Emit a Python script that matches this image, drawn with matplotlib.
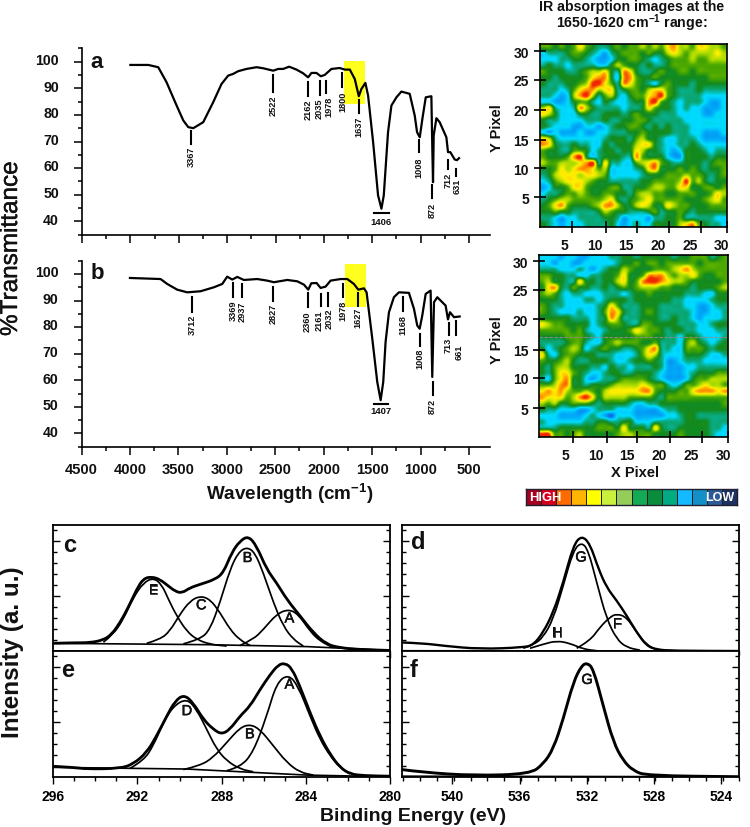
import numpy as np
import matplotlib
matplotlib.use('Agg')
import matplotlib.pyplot as plt
import matplotlib.patheffects as pe
from matplotlib.colors import LinearSegmentedColormap, ListedColormap
from matplotlib.patches import PathPatch
from matplotlib.path import Path
from matplotlib.transforms import ScaledTranslation

plt.rcParams['font.family'] = ['Liberation Sans', 'DejaVu Sans']
plt.rcParams['mathtext.default'] = 'bf'
plt.rcParams['mathtext.fontset'] = 'custom'
plt.rcParams['mathtext.bf'] = 'Liberation Sans:bold'

# FT-IR spectra
a_wn = [4000,3815,3712,3626,3522,3453,3402,3350,3247,3144,3058,2989,2937,2886,2800,2696,2627,2524,2472,2421,
        2359,2283,2214,2163,2128,2077,2032,1991,1922,1836,1784,1732,1681,1639,1612,1571,1543,1491,1440,1405,
        1381,1337,1302,1250,1199,1113,1061,1037,1009,982,947,889,879,872,865,837,803,734,717,693,648,624,603]
a_t = [98.75,98.75,97.9,92.25,83.5,77.9,75.4,75,77.25,84.75,91.6,94.75,95.4,96.4,97.25,97.9,97.5,96.6,97.25,97.25,
       98.1,97,95.6,94.1,95.75,95.75,94.5,95,97.25,97.6,97,97,93.5,87,89.75,92,87.25,69.75,49.75,44.75,
       49.75,73.5,83.5,86.6,88.75,87.9,79.75,73.5,71.6,78.5,86.6,87,67,54.75,72.25,78.75,77.25,71.6,66,66,63.25,63,63.75]
b_wn = [4000,3684,3615,3512,3409,3271,3133,3047,2996,2944,2892,2824,2686,2583,2514,2376,2273,2204,2159,2128,
        2073,2032,1980,1929,1825,1756,1688,1643,1584,1557,1498,1447,1412,1385,1361,1326,1275,1223,1120,1068,
        1034,1009,982,947,896,879,861,827,741,717,696,655,596]
b_t = [98.5,98.1,96.25,94.1,93.1,93.5,95,96.25,99,97.9,98.9,97.75,98.1,97.5,96.9,97.75,97.25,96,94.1,96.5,
       96.6,94.75,95.25,97.5,98.1,98.1,96.25,94.1,94.6,93.1,75.6,59.4,52.5,59.4,74.4,85.6,91.25,93.1,92.9,86.9,
       80.6,79.4,84.4,92.5,93.75,61.25,89.4,91.25,88.1,82.9,85.6,83.75,84]

# peak labels: text, tick x, tick top, tick bottom, text x, text centre
a_peak_text = ['3367','2522','2162','2035','1978','1800','1637','1008','872','712','631']
a_peak_x = [3371,2528,2163,2035,1977,1808,1639,1016,879,717,631]
a_peak_top = [74,95,92.25,92.9,92.9,95.6,85.4,70.4,53.5,62.9,59.75]
a_peak_bot = [69.1,88.5,87,87.6,88.25,90.4,80.75,66,48.75,59.5,57]
a_peak_tx = [3371,2528,2163,2050,1950,1808,1639,1016,879,717,620]
a_peak_mid = [64.75,83.75,82.25,82.6,83.25,85.1,76,60.4,44.5,55.9,53.5]
b_peak_text = ['3712','3369','2937','2827','2360','2161','2032','1978','1627','1168','1008','872','713','661']
b_peak_x = [3361,2934,2841,2524,2166,2032,1960,1798,1643,1178,1009,875,710,631]
b_peak_top = [91.25,96.5,96.25,95,92.9,92.5,92.9,96.25,92.9,91.25,77.5,59.4,81.6,82.25]
b_peak_bot = [85.6,91.5,91.25,90,87.5,87.9,88.1,91.25,88.1,86.25,72.9,54.4,77.1,77.1]
b_peak_tx = [3361,2934,2841,2524,2166,2045,1945,1798,1643,1178,1009,875,712,600]
b_peak_mid = [81.1,86.5,86,85.25,82.5,82.9,83.5,86.5,84,81,68.4,50.5,73.4,70.9]

# IR absorption maps, one digit per pixel, top row is y=30
map_a = """
55454 57543 34545 56565 78665 77665
23334 55432 13455 54544 67656 66676
22233 44321 12445 54323 45556 55666
34332 33332 24654 43433 45555 55555
54443 34566 74387 43345 44554 55555
44344 44578 84288 54454 44444 44555
43334 45699 75387 54324 54443 44444
33323 57886 77345 54677 54333 43333
33212 68963 56324 55789 54333 32222
22112 45532 43223 44895 43233 32112
67322 38643 33323 34754 43232 21112
76422 24433 44434 54443 33222 21122
43322 22333 43344 55433 33322 22222
43222 11221 23445 54343 43332 22222
21211 12112 23334 45444 43332 21112
76322 22222 34443 56443 22333 21111
87433 43322 43444 67743 22334 32222
54433 55423 44344 76443 21244 43233
54445 89423 44433 85444 21144 44344
65566 67893 73322 56785 43344 43455
44576 78875 62222 34784 44545 43445
34677 76776 52222 23444 55565 54345
23567 77654 43333 34455 55695 64344
12445 77544 45533 44566 55774 45545
23345 56544 55443 56655 44555 44576
34566 55555 67434 56755 55544 45675
45785 44456 88644 67644 76554 44555
44544 33334 65443 33453 44543 44444
33212 23333 44312 22133 44533 33322
43212 22333 34212 32244 44678 54332
"""
map_b = """
22212 21122 23344 34444 43445 55345
22122 11222 22344 54554 55555 45555
33322 23212 34465 44455 56786 55555
55443 32233 44574 45888 65667 54455
56443 37443 44674 58998 76654 44445
47843 54433 43454 56665 54443 44456
56532 33222 33323 44544 44433 32244
44432 22332 34443 44444 43322 22344
54332 22223 47533 34443 33322 11233
54322 23223 58743 34543 33332 11223
44444 33323 48633 34443 34332 12223
76554 44423 45543 35544 44333 22344
55555 45322 34445 76554 34433 22233
44445 55432 44444 55544 33244 32223
33334 55322 45655 54453 33256 43234
42345 65234 54433 45783 32255 54344
73245 54443 33222 35763 22244 43223
54456 43344 43223 44543 11233 32222
43566 44433 24332 33343 11122 33333
43577 54322 34433 44432 11123 44455
32578 44212 33455 55432 11124 55666
55688 44344 45666 67655 32355 67665
78786 55654 67777 78854 44557 88878
87775 68974 66665 55543 55555 55555
65644 55543 44443 22334 44444 44445
43322 21123 33222 11112 33444 44444
22211 11232 10222 11111 22344 33333
32222 22334 43344 22233 33344 44333
33344 44445 55474 44374 33444 44332
99554 56444 44566 55544 44544 44322
"""
map_colors = ['#1068e8', '#00aaf8', '#00dcff', '#0aa878', '#128a1e', '#4aa800', '#aedc00', '#fff000', '#ff9c00', '#f02800']
bar_colors = ['#a50021', '#d40020', '#ff6a00', '#ffb400', '#ffff00', '#c8f03c', '#96cd5a',
              '#14aa55', '#0a8c3c', '#00aa82', '#14b9ff', '#1490c8', '#2d5a96', '#1e3264']

# XPS C1s, upper panel
c_be = [296,295.05,294.26,293.62,293.23,292.83,292.44,292.04,291.72,291.33,290.93,290.53,290.22,289.9,289.5,289.03,
        288.32,287.92,287.52,287.13,286.73,286.34,285.86,285.39,284.91,284.28,283.64,283.01,282.38,281.58,280]
c_i = [.14,.15,.15,.2,.3,.515,.79,1.12,1.315,1.35,1.3,1.18,1.09,1.05,1.15,1.21,
       1.3,1.42,1.79,2,2.09,1.91,1.485,1.24,.94,.64,.33,.12,.06,.03,.01]
c_e_be = [293.62,293.15,292.67,292.2,291.72,291.25,290.85,290.53,290.14,289.66,289.19,288.55,287.76]
c_e_i = [.16,.3,.58,.97,1.24,1.33,1.21,.94,.64,.36,.21,.12,.09]
c_c_be = [291.56,290.93,290.46,289.98,289.5,289.03,288.55,288.08,287.6,287.13,286.65]
c_c_i = [.14,.21,.36,.67,.91,1,.94,.7,.39,.2,.1]
c_b_be = [289.82,289.03,288.55,288.08,287.6,287.21,286.81,286.42,286.02,285.54,285.07,284.59,284.12]
c_b_i = [.13,.21,.39,.88,1.485,1.79,1.89,1.79,1.42,.88,.45,.21,.09]
c_a_be = [287.13,286.5,286.02,285.39,284.83,284.36,283.8,283.33,282.69]
c_a_i = [.1,.21,.39,.67,.76,.67,.36,.18,.06]
c_base_be = [296,288.71,283.96,280]
c_base_i = [.14,.115,.08,.01]

# XPS C1s, lower panel
e_be = [296,295.05,294.42,292.83,292.2,291.56,291.09,290.61,290.22,289.79,289.35,288.87,288.4,288,287.6,287.13,
        286.65,286.18,285.7,285.31,284.99,284.67,284.28,283.8,283.33,282.85,282.38,281.9,281.27,280]
e_i = [.2,.18,.15,.16,.24,.45,.75,1.11,1.38,1.5,1.35,1.05,.87,.78,.87,1.11,
       1.29,1.59,1.86,2.04,2.07,1.98,1.65,1.17,.75,.42,.18,.06,.03,.02]
e_d_be = [292.36,291.72,291.25,290.77,290.3,289.66,289.19,288.71,288.24,287.76,287.13,286.5]
e_d_i = [.16,.3,.57,.99,1.29,1.43,1.23,.87,.51,.3,.15,.1]
e_b_be = [289.82,289.03,288.4,287.76,287.13,286.65,286.18,285.54,284.91,284.28,283.64]
e_b_i = [.14,.21,.36,.63,.9,.96,.87,.57,.27,.09,.04]
e_a_be = [287.76,287.13,286.5,285.86,285.39,284.83,284.36,283.8,283.33,282.85,282.38,281.9]
e_a_i = [.12,.18,.45,1.11,1.71,1.87,1.65,1.11,.69,.39,.18,.06]
e_base_be = [296,289.66,283.96,280]
e_base_i = [.18,.15,.04,.01]

# XPS O1s
d_be = [543,541.73,540.54,538.36,535.78,535.18,534.59,533.99,533.4,532.8,532.31,531.81,531.31,530.82,530.22,529.63,
        529.03,528.44,527.84,526.85,522.92]
d_i = [.16,.145,.1,.04,.07,.115,.345,.71,1.25,1.92,2.1,1.95,1.5,1.16,.92,.65,.345,.1,.03,.01,.005]
d_g_be = [535.78,535.18,534.59,533.99,533.4,532.8,532.31,531.91,531.41,530.82,530.22,529.63,528.83]
d_g_i = [.055,.115,.255,.59,1.19,1.83,1.98,1.83,1.25,.59,.22,.07,.02]
d_h_be = [535.38,534.59,533.79,533,532.21,531.41]
d_h_i = [.055,.13,.19,.145,.04,.01]
d_f_be = [532.6,531.81,531.21,530.62,530.22,529.63,529.03,528.44,527.84]
d_f_i = [.055,.19,.44,.62,.68,.62,.345,.115,.03]
f_be = [543,541.73,538.75,535.38,534.59,533.99,533.4,532.8,532.31,531.97,531.61,531.02,530.42,529.83,529.23,528.44,522.92]
f_i = [.14,.09,.03,.06,.24,.515,1.06,1.73,2.03,2.08,1.97,1.3,.64,.3,.12,.03,.01]

DARK = '#111111'


def add_ax(l, t, r, b):
    return fig.add_axes([l / 750, 1 - b / 828, (r - l) / 750, (b - t) / 828])


def draw_ir(ax, wn, t, texts, xs, tops, bots, txs, mids):
    ax.plot(wn, t, color='black', lw=1.6, solid_joinstyle='round', zorder=3)
    for s, x, y1, y2, tx, ym in zip(texts, xs, tops, bots, txs, mids):
        ax.plot([x, x], [y1, y2], color='black', lw=1.5, zorder=3)
        ax.text(tx, ym, s, rotation=90, ha='center', va='center', fontsize=6.6, fontweight='bold', color=DARK)
    ax.set_xlim(4500, 283)
    ax.set_ylim(35, 105)
    ax.set_xticks(np.arange(500, 4501, 500))
    ax.set_xticks(np.arange(750, 4500, 500), minor=True)
    ax.set_yticks(np.arange(40, 101, 10))
    ax.set_yticks(np.arange(35, 105.1, 5), minor=True)
    ax.spines['top'].set_visible(False)
    ax.spines['right'].set_visible(False)
    for s in ['left', 'bottom']:
        ax.spines[s].set_linewidth(1.2)
    ax.tick_params(axis='x', which='major', length=6, width=1.1, labelsize=10.6, pad=5)
    ax.tick_params(axis='y', which='major', length=6, width=1.1, labelsize=10.2, pad=10.5)
    ax.tick_params(which='minor', length=3.2, width=1.1)
    for lab in ax.get_xticklabels():
        lab.set_fontweight('bold')
        lab.set_color(DARK)
    for lab in ax.get_yticklabels():
        lab.set_fontweight('bold')
        lab.set_color(DARK)
        lab.set_transform(lab.get_transform() + ScaledTranslation(0, 3.2 / 100, fig.dpi_scale_trans))
    ax.patch.set_alpha(0)


def draw_map(ax, rows, xt, xl, yt):
    grid = np.array([[int(c) for c in r.replace(' ', '')] for r in rows.strip().split('\n')])
    ax.imshow(grid, cmap=map_cmap, vmin=0, vmax=9, extent=(0, 30, 0, 30), origin='upper',
              interpolation='catrom', aspect='auto')
    ax.set_xlim(0, 30)
    ax.set_ylim(0, 30)
    ax.set_xticks(xt, [''] * 6)
    ax.set_xticks(xl, ['5', '10', '15', '20', '25', '30'], minor=True)
    ax.set_yticks(yt, ['5', '10', '15', '20', '25', '30'])
    ax.tick_params(which='major', direction='inout', length=8, width=1.2, labelsize=10)
    ax.tick_params(axis='y', pad=4)
    ax.tick_params(axis='x', which='minor', length=0, labelsize=10, pad=8)
    for lab in ax.get_xticklabels(minor=True) + ax.get_yticklabels():
        lab.set_fontweight('bold')
        lab.set_color(DARK)
    for s in ax.spines.values():
        s.set_linewidth(1.2)


def smooth(ax, x, y, lw, zorder=3):
    # quadratic bezier through the read points, the source curves have no corners
    pts = list(zip(x, y))
    verts = [pts[0]]
    codes = [Path.MOVETO]
    for i in range(1, len(pts) - 1):
        mid = ((pts[i][0] + pts[i + 1][0]) / 2, (pts[i][1] + pts[i + 1][1]) / 2)
        verts += [pts[i], mid]
        codes += [Path.CURVE3, Path.CURVE3]
    verts.append(pts[-1])
    codes.append(Path.LINETO)
    ax.add_patch(PathPatch(Path(verts, codes), fill=False, edgecolor='black', lw=lw, zorder=zorder))


def draw_xps(ax, xlim, major, lines, base, labels):
    for x, y in lines:
        smooth(ax, x, y, 1.25)
    ax.plot(base[0], base[1], color='black', lw=1.2, zorder=2)
    for s, x, y in labels:
        ax.text(x, y, s, ha='center', va='center', fontsize=10.5, color=DARK, zorder=4,
                path_effects=[pe.withStroke(linewidth=0.4, foreground=DARK)])
    ax.set_xlim(*xlim)
    ax.set_ylim(0, 2.29)
    ax.set_xticks(major)
    ax.set_xticks(np.arange(xlim[1], xlim[0] + .01, 1), minor=True)
    ax.set_yticks([1, 2], [])
    ax.set_yticks(np.arange(.2, 2.25, .2), minor=True)
    ax.tick_params(axis='y', which='major', direction='in', left=True, right=True, length=5, width=1)
    ax.tick_params(axis='y', which='minor', direction='in', left=True, right=True, length=3, width=1)
    ax.tick_params(axis='x', which='major', direction='out', length=5, width=1, labelsize=10, pad=3.5)
    ax.tick_params(axis='x', which='minor', direction='out', length=3, width=1)
    for lab in ax.get_xticklabels():
        lab.set_fontweight('bold')
    for s in ax.spines.values():
        s.set_linewidth(1.3)


map_cmap = LinearSegmentedColormap.from_list('ir', map_colors)
fig = plt.figure(figsize=(7.5, 8.28), dpi=100)

ax_a = add_ax(82, 49.3, 490, 235.7)
ax_a.axvspan(1794, 1571, ymin=(84.1 - 35) / 70, ymax=(100.1 - 35) / 70, color='#ffff1e', lw=0, zorder=1)
draw_ir(ax_a, a_wn, a_t, a_peak_text, a_peak_x, a_peak_top, a_peak_bot, a_peak_tx, a_peak_mid)
ax_a.plot([1485, 1330], [43.25, 43.25], color='black', lw=1.5)
ax_a.text(1405, 40.1, '1406', ha='center', va='center', fontsize=6.8, fontweight='bold', color=DARK)
ax_a.text(4345, 100.2, 'a', ha='center', va='center', fontsize=16, fontweight='bold', color=DARK)
ax_a.tick_params(axis='x', labelbottom=False)

ax_b = add_ax(81.5, 261.7, 490, 447.7)
ax_b.axvspan(1784, 1560, ymin=(87.75 - 35) / 70, ymax=(103.75 - 35) / 70, color='#ffff1e', lw=0, zorder=1)
draw_ir(ax_b, b_wn, b_t, b_peak_text, b_peak_x, b_peak_top, b_peak_bot, b_peak_tx, b_peak_mid)
ax_b.plot([1481, 1337], [51.1, 51.1], color='black', lw=1.5)
ax_b.text(1412, 48.6, '1407', ha='center', va='center', fontsize=6.8, fontweight='bold', color=DARK)
ax_b.text(4335, 100.5, 'b', ha='center', va='center', fontsize=16, fontweight='bold', color=DARK)

fig.text(11 / 750, 1 - 250 / 828, '%Transmittance', rotation=90, ha='center', va='center', fontsize=17.5, color=DARK,
         path_effects=[pe.withStroke(linewidth=0.3, foreground=DARK)])
fig.text(290 / 750, 1 - 494 / 828, 'Wavelength (cm$^{-1}$)', ha='center', va='center', fontsize=13.6,
         fontweight='bold', color=DARK)

# maps
ax_m1 = add_ax(540, 45, 726.7, 227.7)
draw_map(ax_m1, map_a, [5.2, 10.55, 15.6, 20.7, 25.9, 30], [3.86, 8.84, 13.8, 19, 24.2, 29.2],
         [4.8, 9.6, 14.3, 19.2, 24.1, 28.8])
ax_m2 = add_ax(539.3, 256, 728, 438.3)
draw_map(ax_m2, map_b, [5.4, 10.7, 15.6, 20.7, 25.9, 30], [4.1, 9, 14, 19, 24.1, 29.2],
         [4.8, 9.8, 14.4, 19.4, 24.3, 29])
ax_m2.axhline(16.45, color='#8a8a8a', lw=0.8, ls=(0, (3, 1.5)))
fig.text(497 / 750, 1 - 128 / 828, 'Y Pixel', rotation=90, ha='center', va='center', fontsize=10.5,
         fontweight='bold', color=DARK)
fig.text(497 / 750, 1 - 340 / 828, 'Y Pixel', rotation=90, ha='center', va='center', fontsize=10.5,
         fontweight='bold', color=DARK)
fig.text(635 / 750, 1 - 473 / 828, 'X Pixel', ha='center', va='center', fontsize=10.5, fontweight='bold', color=DARK)
fig.text(632 / 750, 1 - 6.5 / 828, 'IR absorption images at the', ha='center', va='center', fontsize=10.2,
         fontweight='bold', color=DARK)
fig.text(632 / 750, 1 - 23 / 828, '1650-1620 cm$^{-1}$ range:', ha='center', va='center', fontsize=10.2,
         fontweight='bold', color=DARK)

# HIGH - LOW scale
ax_bar = add_ax(525.7, 490, 737.3, 505.7)
ax_bar.pcolormesh(np.arange(len(bar_colors))[None, :], cmap=ListedColormap(bar_colors), edgecolors='#202020', linewidth=0.6)
ax_bar.set_xticks([])
ax_bar.set_yticks([])
for s in ax_bar.spines.values():
    s.set_color('#202030')
    s.set_linewidth(1)
ax_bar.text(1.28, .48, 'HIGH', color='white', fontsize=9.4, fontweight='bold', ha='center', va='center')
ax_bar.text(12.85, .48, 'LOW', color='white', fontsize=9, fontweight='bold', ha='center', va='center')

# XPS panels
ax_c = add_ax(53.3, 526, 390, 652)
draw_xps(ax_c, (296, 280), [296, 292, 288, 284, 280],
         [(c_e_be, c_e_i), (c_c_be, c_c_i), (c_b_be, c_b_i), (c_a_be, c_a_i)], (c_base_be, c_base_i),
         [('E', 291.25, 1.1), ('C', 288.97, .83), ('B', 286.77, 1.69), ('A', 284.78, .59)])
smooth(ax_c, c_be, c_i, 2)
ax_c.tick_params(axis='x', which='both', labelbottom=False)
ax_c.text(295.24, 1.94, 'c', fontsize=17, fontweight='bold', ha='center', va='center', color=DARK)

ax_e = add_ax(53.3, 652, 390, 778.3)
draw_xps(ax_e, (296, 280), [296, 292, 288, 284, 280],
         [(e_d_be, e_d_i), (e_b_be, e_b_i), (e_a_be, e_a_i)], (e_base_be, e_base_i),
         [('D', 289.65, 1.2), ('B', 286.66, .78), ('A', 284.78, 1.68)])
smooth(ax_e, e_be, e_i, 2)
ax_e.text(295.32, 1.96, 'e', fontsize=17, fontweight='bold', ha='center', va='center', color=DARK)

ax_d = add_ax(402, 526, 739.3, 652.3)
draw_xps(ax_d, (543, 522.92), [540, 536, 532, 528, 524],
         [(d_g_be, d_g_i), (d_h_be, d_h_i), (d_f_be, d_f_i)], ([543, 522.92], [.01, .005]),
         [('G', 532.34, 1.7), ('H', 533.75, .33), ('F', 530.2, .5)])
smooth(ax_d, d_be, d_i, 1.7)
ax_d.tick_params(axis='x', which='both', labelbottom=False)
ax_d.text(542.03, 1.99, 'd', fontsize=17, fontweight='bold', ha='center', va='center', color=DARK)

ax_f = add_ax(402, 652.3, 739.3, 778.3)
draw_xps(ax_f, (543, 522.92), [540, 536, 532, 528, 524], [], ([543, 522.92], [.02, .01]),
         [('G', 531.98, 1.77)])
smooth(ax_f, f_be, f_i, 2.1)
ax_f.text(542.3, 1.96, 'f', fontsize=17, fontweight='bold', ha='center', va='center', color=DARK)

fig.text(13 / 750, 1 - 652 / 828, 'Intensity (a. u.)', rotation=90, ha='center', va='center', fontsize=17.5,
         fontweight='bold', color=DARK)
fig.text(413 / 750, 1 - 817 / 828, 'Binding Energy (eV)', ha='center', va='center', fontsize=14,
         fontweight='bold', color=DARK)

plt.savefig('out.png', dpi=100)
